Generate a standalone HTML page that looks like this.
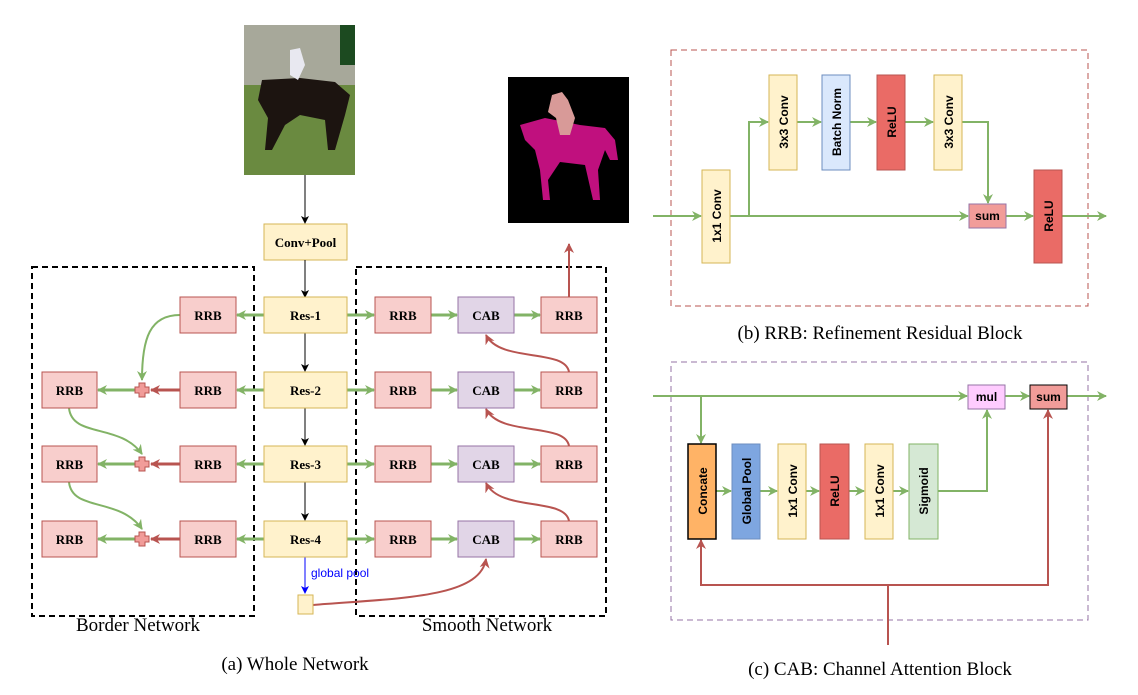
<!DOCTYPE html>
<html><head><meta charset="utf-8"><style>
html,body{margin:0;padding:0;background:#fff;}
svg{font-family:"Liberation Serif",serif;}
.s text{font-family:"Liberation Sans",sans-serif;font-weight:bold;font-size:12px;}
.l{font-weight:bold;font-size:13px;}
</style></head><body>
<svg width="1138" height="690" viewBox="0 0 1138 690" xmlns="http://www.w3.org/2000/svg">
<defs>
<marker id="g" markerWidth="10" markerHeight="10" refX="9" refY="5" orient="auto" markerUnits="userSpaceOnUse"><path d="M0,0 L10,5 L0,10 L3,5 z" fill="#82b366"/></marker>
<marker id="r" markerWidth="10" markerHeight="10" refX="9" refY="5" orient="auto" markerUnits="userSpaceOnUse"><path d="M0,0 L10,5 L0,10 L3,5 z" fill="#b85450"/></marker>
<marker id="k" markerWidth="8" markerHeight="8" refX="7" refY="4" orient="auto" markerUnits="userSpaceOnUse"><path d="M0,0 L8,4 L0,8 L2,4 z" fill="#000"/></marker>
<marker id="b" markerWidth="8" markerHeight="8" refX="7" refY="4" orient="auto" markerUnits="userSpaceOnUse"><path d="M0,0 L8,4 L0,8 L2,4 z" fill="#00f"/></marker>
</defs>

<!-- horse photo -->
<rect x="244" y="25" width="111" height="150" fill="#5e7a3c"/>
<rect x="244" y="25" width="111" height="60" fill="#a7a89a"/>
<rect x="244" y="85" width="111" height="90" fill="#6a8a40"/>
<path d="M262,80 L300,78 L335,82 L350,95 L345,115 L335,150 L328,150 L325,120 L300,115 L285,125 L272,150 L265,150 L268,118 L258,100 Z" fill="#1c1410"/>
<path d="M290,50 L300,48 L305,65 L298,80 L290,75 Z" fill="#e8e8f0"/>
<rect x="340" y="25" width="15" height="40" fill="#1c4a20"/>
<!-- segmentation -->
<rect x="508" y="77" width="121" height="146" fill="#000"/>
<path d="M520,125 L545,118 L580,125 L605,128 L615,140 L618,160 L610,160 L605,150 L598,170 L600,200 L593,200 L585,165 L560,162 L548,180 L550,200 L543,200 L540,170 L535,150 L525,140 Z" fill="#c0107e"/>
<path d="M552,95 L562,92 L568,100 L575,118 L570,135 L560,135 L556,118 L548,112 Z" fill="#d89a98"/>

<!-- left panel -->
<rect x="32" y="267" width="222" height="349" fill="none" stroke="#000" stroke-width="2" stroke-dasharray="6,4"/>
<rect x="356" y="267" width="250" height="349" fill="none" stroke="#000" stroke-width="2" stroke-dasharray="6,4"/>

<line x1="305" y1="175" x2="305" y2="223" stroke="#000" marker-end="url(#k)"/>
<rect x="264" y="224" width="83" height="36" fill="#fff2cc" stroke="#d6b656"/>
<text x="305.5" y="247" class="l" text-anchor="middle" font-size="12">Conv+Pool</text>
<line x1="305" y1="260" x2="305" y2="297" stroke="#000" marker-end="url(#k)"/>
<line x1="305" y1="333" x2="305" y2="371" stroke="#000" marker-end="url(#k)"/>
<line x1="305" y1="408" x2="305" y2="445" stroke="#000" marker-end="url(#k)"/>
<line x1="305" y1="482" x2="305" y2="520" stroke="#000" marker-end="url(#k)"/>

<g>
<line x1="264" y1="315" x2="237" y2="315" stroke="#82b366" stroke-width="3" marker-end="url(#g)"/>
<line x1="347" y1="315" x2="374" y2="315" stroke="#82b366" stroke-width="3" marker-end="url(#g)"/>
<line x1="431" y1="315" x2="457" y2="315" stroke="#82b366" stroke-width="3" marker-end="url(#g)"/>
<line x1="514" y1="315" x2="540" y2="315" stroke="#82b366" stroke-width="3" marker-end="url(#g)"/>

<line x1="264" y1="390" x2="237" y2="390" stroke="#82b366" stroke-width="3" marker-end="url(#g)"/>
<line x1="347" y1="390" x2="374" y2="390" stroke="#82b366" stroke-width="3" marker-end="url(#g)"/>
<line x1="431" y1="390" x2="457" y2="390" stroke="#82b366" stroke-width="3" marker-end="url(#g)"/>
<line x1="514" y1="390" x2="540" y2="390" stroke="#82b366" stroke-width="3" marker-end="url(#g)"/>
<line x1="180" y1="390" x2="151" y2="390" stroke="#b85450" stroke-width="3" marker-end="url(#r)"/>
<line x1="135" y1="390" x2="98" y2="390" stroke="#82b366" stroke-width="3" marker-end="url(#g)"/>

<line x1="264" y1="464" x2="237" y2="464" stroke="#82b366" stroke-width="3" marker-end="url(#g)"/>
<line x1="347" y1="464" x2="374" y2="464" stroke="#82b366" stroke-width="3" marker-end="url(#g)"/>
<line x1="431" y1="464" x2="457" y2="464" stroke="#82b366" stroke-width="3" marker-end="url(#g)"/>
<line x1="514" y1="464" x2="540" y2="464" stroke="#82b366" stroke-width="3" marker-end="url(#g)"/>
<line x1="180" y1="464" x2="151" y2="464" stroke="#b85450" stroke-width="3" marker-end="url(#r)"/>
<line x1="135" y1="464" x2="98" y2="464" stroke="#82b366" stroke-width="3" marker-end="url(#g)"/>

<line x1="264" y1="539" x2="237" y2="539" stroke="#82b366" stroke-width="3" marker-end="url(#g)"/>
<line x1="347" y1="539" x2="374" y2="539" stroke="#82b366" stroke-width="3" marker-end="url(#g)"/>
<line x1="431" y1="539" x2="457" y2="539" stroke="#82b366" stroke-width="3" marker-end="url(#g)"/>
<line x1="514" y1="539" x2="540" y2="539" stroke="#82b366" stroke-width="3" marker-end="url(#g)"/>
<line x1="180" y1="539" x2="151" y2="539" stroke="#b85450" stroke-width="3" marker-end="url(#r)"/>
<line x1="135" y1="539" x2="98" y2="539" stroke="#82b366" stroke-width="3" marker-end="url(#g)"/>

<path d="M180,315 C150,315 142,338 142,380" fill="none" stroke="#82b366" stroke-width="2" marker-end="url(#g)"/>
<path d="M69,408 C72,438 120,423 142,454" fill="none" stroke="#82b366" stroke-width="2" marker-end="url(#g)"/>
<path d="M69,482 C72,512 120,497 142,529" fill="none" stroke="#82b366" stroke-width="2" marker-end="url(#g)"/>
<path d="M569,372 C565,348 500,363 486,335" fill="none" stroke="#b85450" stroke-width="2" marker-end="url(#r)"/>
<path d="M569,446 C565,422 500,437 486,409" fill="none" stroke="#b85450" stroke-width="2" marker-end="url(#r)"/>
<path d="M569,521 C565,497 500,512 486,483" fill="none" stroke="#b85450" stroke-width="2" marker-end="url(#r)"/>
<path d="M313,605 C400,598 480,598 486,559" fill="none" stroke="#b85450" stroke-width="2" marker-end="url(#r)"/>
<line x1="569" y1="297" x2="569" y2="244" stroke="#b85450" stroke-width="2" marker-end="url(#r)"/>
<line x1="305" y1="557" x2="305" y2="593" stroke="#00f" stroke-width="1" marker-end="url(#b)"/>
<text x="311" y="577" style="font-family:'Liberation Sans',sans-serif" font-size="12" fill="#00f">global pool</text>
<rect x="298" y="595" width="15" height="19" fill="#fff2cc" stroke="#d6b656"/>

<g stroke="#b85450" stroke-width="1" fill="#f19c99">
<path d="M139,383 h6 v4 h4 v6 h-4 v4 h-6 v-4 h-4 v-6 h4 z"/>
<path d="M139,457 h6 v4 h4 v6 h-4 v4 h-6 v-4 h-4 v-6 h4 z"/>
<path d="M139,532 h6 v4 h4 v6 h-4 v4 h-6 v-4 h-4 v-6 h4 z"/>
</g>

<g class="l" font-size="13" text-anchor="middle">
<g fill="#fff2cc" stroke="#d6b656">
<rect x="264" y="297" width="83" height="36"/><rect x="264" y="372" width="83" height="36"/>
<rect x="264" y="446" width="83" height="36"/><rect x="264" y="521" width="83" height="36"/>
</g>
<g fill="#f8cecc" stroke="#b85450">
<rect x="180" y="297" width="56" height="36"/><rect x="180" y="372" width="56" height="36"/>
<rect x="180" y="446" width="56" height="36"/><rect x="180" y="521" width="56" height="36"/>
<rect x="42" y="372" width="55" height="36"/><rect x="42" y="446" width="55" height="36"/><rect x="42" y="521" width="55" height="36"/>
<rect x="375" y="297" width="56" height="36"/><rect x="375" y="372" width="56" height="36"/>
<rect x="375" y="446" width="56" height="36"/><rect x="375" y="521" width="56" height="36"/>
<rect x="541" y="297" width="56" height="36"/><rect x="541" y="372" width="56" height="36"/>
<rect x="541" y="446" width="56" height="36"/><rect x="541" y="521" width="56" height="36"/>
</g>
<g fill="#e1d5e7" stroke="#9673a6">
<rect x="458" y="297" width="56" height="36"/><rect x="458" y="372" width="56" height="36"/>
<rect x="458" y="446" width="56" height="36"/><rect x="458" y="521" width="56" height="36"/>
</g>
<text x="305.5" y="320">Res-1</text><text x="305.5" y="395">Res-2</text><text x="305.5" y="469">Res-3</text><text x="305.5" y="544">Res-4</text>
<text x="208" y="320">RRB</text><text x="208" y="395">RRB</text><text x="208" y="469">RRB</text><text x="208" y="544">RRB</text>
<text x="69.5" y="395">RRB</text><text x="69.5" y="469">RRB</text><text x="69.5" y="544">RRB</text>
<text x="403" y="320">RRB</text><text x="403" y="395">RRB</text><text x="403" y="469">RRB</text><text x="403" y="544">RRB</text>
<text x="486" y="320">CAB</text><text x="486" y="395">CAB</text><text x="486" y="469">CAB</text><text x="486" y="544">CAB</text>
<text x="569" y="320">RRB</text><text x="569" y="395">RRB</text><text x="569" y="469">RRB</text><text x="569" y="544">RRB</text>
</g>
</g>
<text x="138" y="631" font-size="19" text-anchor="middle">Border Network</text>
<text x="487" y="631" font-size="19" text-anchor="middle">Smooth Network</text>
<text x="295" y="670" font-size="19" text-anchor="middle">(a) Whole Network</text>

<!-- RRB panel -->
<rect x="671" y="50" width="417" height="256" fill="none" stroke="#b85450" stroke-dasharray="6,4"/>
<g stroke="#82b366" stroke-width="2" fill="none">
<line x1="653" y1="216" x2="701" y2="216" marker-end="url(#g)"/>
<line x1="730" y1="216" x2="968" y2="216" marker-end="url(#g)"/>
<polyline points="749,216 749,122 768,122" marker-end="url(#g)"/>
<line x1="797" y1="122" x2="821" y2="122" marker-end="url(#g)"/>
<line x1="850" y1="122" x2="876" y2="122" marker-end="url(#g)"/>
<line x1="905" y1="122" x2="933" y2="122" marker-end="url(#g)"/>
<polyline points="962,122 988,122 988,203" marker-end="url(#g)"/>
<line x1="1006" y1="216" x2="1033" y2="216" marker-end="url(#g)"/>
<line x1="1062" y1="216" x2="1106" y2="216" marker-end="url(#g)"/>
</g>
<rect x="702" y="170" width="28" height="93" fill="#fff2cc" stroke="#d6b656"/>
<rect x="769" y="75" width="28" height="95" fill="#fff2cc" stroke="#d6b656"/>
<rect x="822" y="75" width="28" height="95" fill="#dae8fc" stroke="#6c8ebf"/>
<rect x="877" y="75" width="28" height="95" fill="#ea6b66" stroke="#b85450"/>
<rect x="934" y="75" width="28" height="95" fill="#fff2cc" stroke="#d6b656"/>
<rect x="969" y="204" width="37" height="24" fill="#f19c99" stroke="#9673a6"/>
<rect x="1034" y="170" width="28" height="93" fill="#ea6b66" stroke="#b85450"/>
<g class="s">
<text transform="translate(721,216) rotate(-90)" text-anchor="middle">1x1 Conv</text>
<text transform="translate(788,122) rotate(-90)" text-anchor="middle">3x3 Conv</text>
<text transform="translate(841,122) rotate(-90)" text-anchor="middle">Batch Norm</text>
<text transform="translate(896,122) rotate(-90)" text-anchor="middle">ReLU</text>
<text transform="translate(953,122) rotate(-90)" text-anchor="middle">3x3 Conv</text>
<text x="987.5" y="220" text-anchor="middle">sum</text>
<text transform="translate(1053,216) rotate(-90)" text-anchor="middle">ReLU</text>
</g>
<text x="880" y="339" font-size="19" text-anchor="middle">(b) RRB: Refinement Residual Block</text>

<!-- CAB panel -->
<rect x="671" y="362" width="417" height="258" fill="none" stroke="#9673a6" stroke-dasharray="6,4"/>
<g stroke="#82b366" stroke-width="2" fill="none">
<line x1="653" y1="396" x2="967" y2="396" marker-end="url(#g)"/>
<polyline points="701,396 701,443" marker-end="url(#g)"/>
<line x1="716" y1="491" x2="731" y2="491" marker-end="url(#g)"/>
<line x1="760" y1="491" x2="777" y2="491" marker-end="url(#g)"/>
<line x1="806" y1="491" x2="819" y2="491" marker-end="url(#g)"/>
<line x1="849" y1="491" x2="864" y2="491" marker-end="url(#g)"/>
<line x1="893" y1="491" x2="908" y2="491" marker-end="url(#g)"/>
<polyline points="938,491 987,491 987,410" marker-end="url(#g)"/>
<line x1="1005" y1="396" x2="1029" y2="396" marker-end="url(#g)"/>
<line x1="1067" y1="396" x2="1106" y2="396" marker-end="url(#g)"/>
</g>
<g stroke="#b85450" stroke-width="2" fill="none">
<line x1="888" y1="645" x2="888" y2="585"/>
<polyline points="888,585 701,585 701,540" marker-end="url(#r)"/>
<polyline points="888,585 1048,585 1048,410" marker-end="url(#r)"/>
</g>
<rect x="688" y="444" width="28" height="95" fill="#ffb366" stroke="#000" stroke-width="1.5"/>
<rect x="732" y="444" width="28" height="95" fill="#7ea6e0" stroke="#6c8ebf"/>
<rect x="778" y="444" width="28" height="95" fill="#fff2cc" stroke="#d6b656"/>
<rect x="820" y="444" width="29" height="95" fill="#ea6b66" stroke="#b85450"/>
<rect x="865" y="444" width="28" height="95" fill="#fff2cc" stroke="#d6b656"/>
<rect x="909" y="444" width="29" height="95" fill="#d5e8d4" stroke="#82b366"/>
<rect x="968" y="385" width="37" height="24" fill="#ffccff" stroke="#9673a6"/>
<rect x="1030" y="385" width="37" height="24" fill="#f19c99" stroke="#000"/>
<g class="s">
<text transform="translate(707,491) rotate(-90)" text-anchor="middle">Concate</text>
<text transform="translate(751,491) rotate(-90)" text-anchor="middle">Global Pool</text>
<text transform="translate(797,491) rotate(-90)" text-anchor="middle">1x1 Conv</text>
<text transform="translate(839,491) rotate(-90)" text-anchor="middle">ReLU</text>
<text transform="translate(884,491) rotate(-90)" text-anchor="middle">1x1 Conv</text>
<text transform="translate(928,491) rotate(-90)" text-anchor="middle">Sigmoid</text>
<text x="986.5" y="401" text-anchor="middle">mul</text>
<text x="1048.5" y="401" text-anchor="middle">sum</text>
</g>
<text x="880" y="675" font-size="19" text-anchor="middle">(c) CAB: Channel Attention Block</text>
</svg>
</body></html>
